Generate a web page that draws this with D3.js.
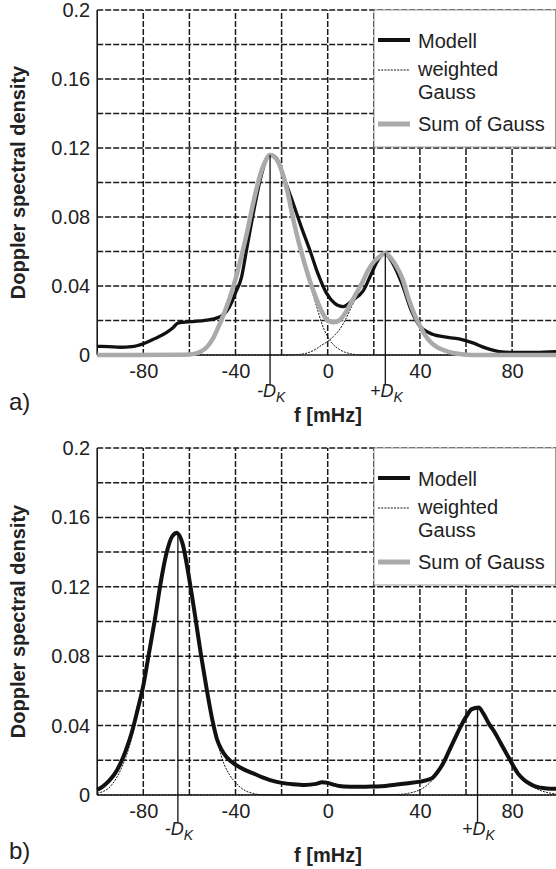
<!DOCTYPE html>
<html><head><meta charset="utf-8">
<script src="https://cdn.jsdelivr.net/npm/d3@7"></script>
<style>body{margin:0;background:#fff}svg{display:block}text{font-family:"Liberation Sans",Arial,Helvetica,sans-serif}</style>
</head><body>
<svg id="chart" width="556" height="869"></svg>
<script>
// ---------- tick labels ----------
const xTickVals = [-80, -40, 0, 40, 80];
const xTickLabels = ["-80", "-40", "0", "40", "80"];
const xGridVals = [-80, -60, -40, -20, 0, 20, 40, 60, 80];
const yTickVals = [0, 0.04, 0.08, 0.12, 0.16, 0.2];
const yTickLabels = ["0", "0.04", "0.08", "0.12", "0.16", "0.2"];
const yGridVals = [0.02, 0.04, 0.06, 0.08, 0.1, 0.12, 0.14, 0.16, 0.18, 0.2];
const legendLabels = ["Modell", "weighted", "Gauss", "Sum of Gauss"];

// ---------- panel a) ----------
const modellA_f = [-100,-95,-90,-85,-80,-75,-70,-67,-65,-62,-55,-50,-47,-44,-41.5,-40,-37.4,-35.2,-32.3,-29.4,-26.5,-24.8,-22.2,-18.6,-15,-11.4,-7.8,-4.2,-0.6,3,6.6,11,15.3,18.9,21.8,24.7,28.3,32.3,36.2,39.8,44.2,50,57,63,68.7,74.5,80,90,100];
const modellA_v = [0.005,0.0048,0.0045,0.0048,0.0065,0.0095,0.013,0.016,0.0185,0.019,0.0198,0.0208,0.022,0.025,0.031,0.036,0.045,0.061,0.082,0.101,0.114,0.116,0.114,0.101,0.088,0.074,0.061,0.047,0.036,0.030,0.028,0.032,0.037,0.047,0.055,0.059,0.053,0.041,0.026,0.017,0.0128,0.0106,0.0093,0.007,0.004,0.002,0.0015,0.0015,0.002];

const gauss1A_f = [-100,-65,-62.5,-60,-57.5,-55,-52.5,-50,-47.5,-45,-42.5,-40,-37.5,-35,-32.5,-30,-27.5,-25,-22.5,-20,-17.5,-15,-12.5,-10,-7.5,-5,-2.5,0,2.5,5,7.5,10,12.5,15,100];
const gauss1A_v = [0,0,0.0001,0.0003,0.0008,0.002,0.0045,0.009,0.016,0.024,0.033,0.044,0.057,0.071,0.087,0.101,0.111,0.116,0.114,0.107,0.095,0.079,0.065,0.052,0.040,0.029,0.018,0.0105,0.006,0.0033,0.0016,0.0007,0.0002,0,0];

const gauss2A_f = [-100,-17.5,-15,-12.5,-10,-7.5,-5,-2.5,0,2.5,5,7.5,10,12.5,15,17.5,20,22.5,25,27.5,30,32.5,35,37.5,40,42.5,45,47.5,50,55,60,65,100];
const gauss2A_v = [0,0,0.0001,0.0003,0.0008,0.0018,0.0035,0.0058,0.0078,0.0108,0.0145,0.020,0.027,0.034,0.042,0.049,0.054,0.057,0.059,0.056,0.051,0.044,0.033,0.024,0.017,0.011,0.007,0.0045,0.003,0.001,0.0002,0,0];

const sumA_f = [-100,-65,-60,-57.5,-55,-52.5,-50,-47.5,-45,-42.5,-40,-37.5,-35,-32.5,-30,-27.5,-25,-22.5,-20,-17.5,-15,-12.5,-10,-7.5,-5,-2.5,0,2.5,5,7.5,10,12.5,15,17.5,20,22.5,25,27.5,30,32.5,35,37.5,40,42.5,45,47.5,50,55,60,65,100];
const sumA_v = [0,0.0001,0.0003,0.0008,0.002,0.0045,0.009,0.016,0.024,0.033,0.044,0.057,0.071,0.087,0.101,0.111,0.116,0.114,0.107,0.095,0.079,0.065,0.053,0.042,0.033,0.025,0.020,0.019,0.020,0.024,0.030,0.036,0.042,0.049,0.054,0.057,0.059,0.056,0.051,0.044,0.033,0.024,0.017,0.011,0.007,0.0045,0.003,0.001,0.0002,0,0];

const dkA_f = [-25, 25];
const dkA_peak = [0.116, 0.059];
const dkA_sign = ["-", "+"];

// ---------- panel b) ----------
const modellB_f = [-100,-97.5,-95,-92.5,-90,-87.5,-85,-82.5,-80,-77.5,-75,-72.5,-70,-67.5,-65.5,-63,-60,-57.5,-55,-52.5,-50,-48,-46,-44,-40,-36,-32,-28,-25,-20,-15,-10,-5,-2.5,0,2.5,5,10,15,20,25,30,35,40,45,47.5,50,52.5,55,57.5,60,62.5,65.5,67.5,70,72.5,75,77.5,80,82.5,85,87.5,90,95,100];
const modellB_v = [0.003,0.005,0.008,0.012,0.018,0.026,0.036,0.049,0.063,0.082,0.101,0.122,0.139,0.149,0.151,0.145,0.124,0.103,0.081,0.061,0.043,0.032,0.026,0.022,0.0175,0.0145,0.0123,0.010,0.0086,0.007,0.0062,0.0058,0.0064,0.0073,0.007,0.006,0.0052,0.0048,0.0047,0.0049,0.0052,0.006,0.0068,0.0077,0.0095,0.013,0.018,0.025,0.032,0.039,0.045,0.0495,0.0505,0.047,0.041,0.036,0.030,0.024,0.018,0.0125,0.009,0.0066,0.005,0.0038,0.0035];

const gauss1B_f = [-100,-97.5,-95,-92.5,-90,-87.5,-85,-82.5,-80,-77.5,-75,-72.5,-70,-67.5,-65.5,-63,-60,-57.5,-55,-52.5,-50,-47.5,-45,-42.5,-40,-37.5,-35,-32.5,-30,-25,100];
const gauss1B_v = [0.001,0.002,0.004,0.008,0.014,0.022,0.033,0.047,0.062,0.081,0.101,0.122,0.140,0.150,0.152,0.147,0.126,0.104,0.082,0.061,0.043,0.029,0.018,0.0115,0.0072,0.004,0.002,0.001,0.0003,0,0];

const gauss2B_f = [-100,30,35,40,42.5,45,47.5,50,52.5,55,57.5,60,62.5,65.5,67.5,70,72.5,75,77.5,80,82.5,85,87.5,90,92.5,95,100];
const gauss2B_v = [0,0.0003,0.001,0.003,0.005,0.008,0.0125,0.019,0.026,0.033,0.040,0.046,0.050,0.051,0.048,0.042,0.036,0.030,0.024,0.018,0.013,0.009,0.006,0.004,0.0025,0.0015,0.0005];

const dkB_f = [-65, 65];
const dkB_peak = [0.151, 0.0505];
const dkB_sign = ["-", "+"];

// ---------- drawing ----------
const svg = d3.select("#chart");
const W = 556;
const x = d3.scaleLinear().domain([-100, 100]).range([97.2, 558.2]);
const FONT = '"Liberation Sans", Arial, Helvetica, sans-serif';

function zip(f, v) { return f.map((d, i) => [d, v[i]]); }

function panel(cfg) {
  const y = d3.scaleLinear().domain([0, 0.2]).range([cfg.y0, cfg.y1]);
  const g = svg.append("g");
  const x0 = x.range()[0];
  const x1 = x.range()[1];

  // gridlines
  g.append("g").selectAll("line").data(xGridVals).join("line")
    .attr("x1", d => x(d)).attr("x2", d => x(d))
    .attr("y1", y(0)).attr("y2", y(0.2))
    .attr("stroke", "#1a1a1a").attr("stroke-width", 1.5).attr("stroke-dasharray", "6,2");
  g.append("g").selectAll("line").data(yGridVals).join("line")
    .attr("x1", x0).attr("x2", x1)
    .attr("y1", d => y(d)).attr("y2", d => y(d))
    .attr("stroke", "#1a1a1a").attr("stroke-width", 1.5).attr("stroke-dasharray", "6,2");

  // axes lines
  g.append("line").attr("x1", x0).attr("x2", x0).attr("y1", y(0)).attr("y2", y(0.2))
    .attr("stroke", "#1a1a1a").attr("stroke-width", 1.6);
  g.append("line").attr("x1", x0).attr("x2", x1).attr("y1", y(0)).attr("y2", y(0))
    .attr("stroke", "#1a1a1a").attr("stroke-width", 1.6);

  // tick labels via d3 axes
  const ax = g.append("g").attr("transform", `translate(0,${y(0)})`)
    .call(d3.axisBottom(x).tickValues(xTickVals).tickFormat((d, i) => xTickLabels[i]).tickSize(0).tickPadding(9));
  const ay = g.append("g").attr("transform", `translate(${x0},0)`)
    .call(d3.axisLeft(y).tickValues(yTickVals).tickFormat((d, i) => yTickLabels[i]).tickSize(0).tickPadding(7));
  [ax, ay].forEach(a => {
    a.select(".domain").remove();
    a.selectAll("text").attr("font-size", 20).attr("font-family", FONT).attr("fill", "#222");
  });

  const line = d3.line().x(d => x(d[0])).y(d => y(d[1])).curve(d3.curveMonotoneX);

  // curves
  g.append("path").datum(zip(cfg.modellF, cfg.modellV)).attr("d", line)
    .attr("fill", "none").attr("stroke", "#111").attr("stroke-width", cfg.modellW).attr("stroke-linejoin", "round");
  cfg.gauss.forEach(s => {
    g.append("path").datum(zip(s[0], s[1])).attr("d", line)
      .attr("fill", "none").attr("stroke", "#111").attr("stroke-width", 1).attr("stroke-dasharray", "2,1.2");
  });
  if (cfg.sumF) {
    g.append("path").datum(zip(cfg.sumF, cfg.sumV)).attr("d", line)
      .attr("fill", "none").attr("stroke", "#aaa").attr("stroke-width", 4.5).attr("stroke-linejoin", "round");
  }

  // D_K marker lines and labels
  cfg.dkF.forEach((f, i) => {
    g.append("line").attr("x1", x(f)).attr("x2", x(f))
      .attr("y1", y(0) + cfg.dkDrop).attr("y2", y(cfg.dkPeak[i]))
      .attr("stroke", "#111").attr("stroke-width", 1.3);
    const t = g.append("text").attr("x", x(f) + 1).attr("y", y(0) + cfg.dkLabelDy)
      .attr("text-anchor", "middle").attr("font-size", 18).attr("font-style", "italic")
      .attr("font-family", FONT).attr("fill", "#222");
    t.append("tspan").text(cfg.dkSign[i] + "D");
    t.append("tspan").attr("font-size", 14).attr("dy", 5).text("K");
  });

  // legend
  const ly = y(0.2);
  const lg = g.append("g");
  lg.append("rect").attr("x", 374).attr("y", ly).attr("width", W - 374 - 0.5).attr("height", 137)
    .attr("fill", "#fff").attr("stroke", "#999").attr("stroke-width", 1);
  lg.append("line").attr("x1", 378).attr("x2", 410).attr("y1", ly + 30).attr("y2", ly + 30)
    .attr("stroke", "#111").attr("stroke-width", 4);
  lg.append("line").attr("x1", 378).attr("x2", 410).attr("y1", ly + 60).attr("y2", ly + 60)
    .attr("stroke", "#111").attr("stroke-width", 1).attr("stroke-dasharray", "2,1.2");
  lg.append("line").attr("x1", 378).attr("x2", 410).attr("y1", ly + 114).attr("y2", ly + 114)
    .attr("stroke", "#aaa").attr("stroke-width", 5);
  const lys = [38, 66, 89, 121];
  legendLabels.forEach((s, i) => {
    lg.append("text").attr("x", 418).attr("y", ly + lys[i]).attr("font-size", 20)
      .attr("font-family", FONT).attr("fill", "#222").text(s);
  });

  // axis titles
  g.append("text").attr("transform", `translate(25,${(y(0) + y(0.2)) / 2}) rotate(-90)`)
    .attr("text-anchor", "middle").attr("font-size", 20).attr("font-weight", "bold")
    .attr("font-family", FONT).attr("fill", "#222").text("Doppler spectral density");
  g.append("text").attr("x", 328).attr("y", cfg.fLabelY).attr("text-anchor", "middle")
    .attr("font-size", 20).attr("font-weight", "bold").attr("font-family", FONT).attr("fill", "#222")
    .text("f [mHz]");
  g.append("text").attr("x", 9).attr("y", cfg.tagY).attr("font-size", 24)
    .attr("font-family", FONT).attr("fill", "#222").text(cfg.tag);
}

panel({
  y0: 355, y1: 10,
  modellF: modellA_f, modellV: modellA_v, modellW: 3.3,
  gauss: [[gauss1A_f, gauss1A_v], [gauss2A_f, gauss2A_v]],
  sumF: sumA_f, sumV: sumA_v,
  dkF: dkA_f, dkPeak: dkA_peak, dkSign: dkA_sign, dkDrop: 30, dkLabelDy: 42,
  fLabelY: 422, tag: "a)", tagY: 410
});
panel({
  y0: 795, y1: 448,
  modellF: modellB_f, modellV: modellB_v, modellW: 4,
  gauss: [[gauss1B_f, gauss1B_v], [gauss2B_f, gauss2B_v]],
  sumF: null, sumV: null,
  dkF: dkB_f, dkPeak: dkB_peak, dkSign: dkB_sign, dkDrop: 27, dkLabelDy: 40,
  fLabelY: 862, tag: "b)", tagY: 859
});
</script>
</body></html>
